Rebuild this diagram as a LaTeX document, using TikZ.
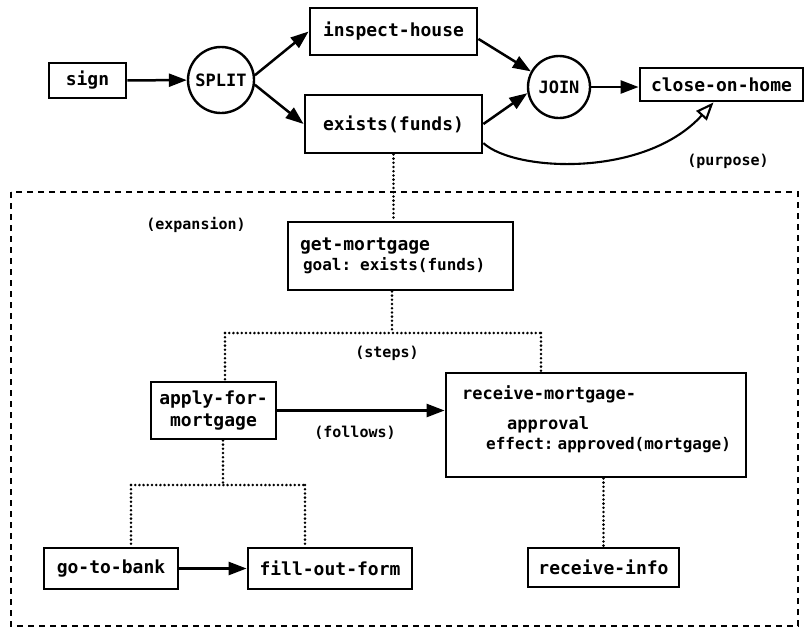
\documentclass[tikz,border=0pt]{standalone}
\usepackage{fontspec}
\newfontfamily\dmono{DejaVu Sans Mono}
\usetikzlibrary{arrows.meta}
\newcommand\diagmain{\dmono\bfseries\fontsize{18}{22}\selectfont}
\newcommand\diagrecv{\dmono\bfseries\fontsize{17}{22}\selectfont}
\newcommand\diagsub{\dmono\bfseries\fontsize{16}{20}\selectfont}
\newcommand\diagnote{\dmono\bfseries\fontsize{15}{17}\selectfont}
\begin{document}
\begin{tikzpicture}[x=1pt,y=-1pt,
  box/.style={draw, line width=2.8pt, inner sep=0pt, font=\diagmain},
  circ/.style={draw, circle, line width=2.4pt, inner sep=0pt, font=\dmono\bfseries\fontsize{17}{20}\selectfont},
  arr/.style={line width=2.5pt, -{Triangle[length=18pt,width=13pt]}},
  openarr/.style={line width=2.1pt, -{Triangle[open,length=18pt,width=14pt]}},
  dots/.style={line width=2.8pt, line cap=round, dash pattern=on 0pt off 4.2pt},
  dashbox/.style={line width=2.5pt, dash pattern=on 6pt off 5pt},
  note/.style={font=\diagnote, inner sep=0pt}]
\useasboundingbox (0,0) rectangle (806,630);
\fill[white] (0,0) rectangle (806,630);

% top row
\node[box, minimum width=77pt, minimum height=35pt] (sign) at (87.5,80.5) {sign};
\node[circ, minimum size=66pt] (split) at (221,80) {SPLIT};
\node[box, minimum width=167pt, minimum height=47pt] (inspect) at (393.5,31.5) {inspect-house};
\node[box, minimum width=177pt, minimum height=58pt] (exists) at (393.5,124) {exists(funds)};
\node[circ, minimum size=62pt] (join) at (559,87) {JOIN};
\node[box, minimum width=163pt, minimum height=33pt] (close) at (721.5,84.5) {close-on-home};

% expansion frame
\draw[dashbox] (11,192) rectangle (798,626);
\node[note] (expansion) at (196,225) {(expansion)};

\node[box, align=left, text width=201pt, inner xsep=12pt, minimum height=68pt] (getm) at (400.5,256)
  {get-mortgage\\[-2pt]{\diagsub\hspace{3pt}goal: exists(funds)}};

\node[box, minimum width=125pt, minimum height=57pt, align=center] (apply) at (213.5,410.5) {apply-for-\\mortgage};

\node[box, minimum width=300pt, minimum height=104pt] (receive) at (596,425) {};
\node[anchor=north west, align=left, inner sep=0pt, font=\diagrecv] (receivetxt) at (462,385)
  {receive-mortgage-\\[8pt]\hspace{45pt}approval\\[-2pt]{\diagsub\hspace{24pt}effect:\hspace{4pt}approved(mortgage)}};

\node[box, minimum width=134pt, minimum height=41pt] (gobank) at (111,568.5) {go-to-bank};
\node[box, minimum width=164pt, minimum height=41pt] (fill) at (330,568.5) {fill-out-form};
\node[box, minimum width=151pt, minimum height=39pt] (rinfo) at (603.5,567.5) {receive-info};

\node[note] (steps) at (387,353) {(steps)};
\node[note] (follows) at (355,433) {(follows)};
\node[note] (purpose) at (728,161) {(purpose)};

% junction points
\coordinate (stepsL) at (225,333);
\coordinate (stepsR) at (541,333);
\coordinate (stepsM) at (392,333);
\coordinate (subL) at (131,485);
\coordinate (subR) at (305,485);
\coordinate (subM) at (223,485);

% dotted links
\draw[dots] (exists.south) -- (exists.south |- getm.north);
\draw[dots] (getm.south -| stepsM) -- (stepsM);
\draw[dots] (stepsL) -- (stepsR);
\draw[dots] (stepsL) -- (stepsL |- apply.north);
\draw[dots] (stepsR) -- (stepsR |- receive.north);
\draw[dots] (apply.south -| subM) -- (subM);
\draw[dots] (subL) -- (subR);
\draw[dots] (subL) -- (subL |- gobank.north);
\draw[dots] (subR) -- (subR |- fill.north);
\draw[dots] (rinfo.north |- receive.south) -- (rinfo.north);

% arrows
\draw[arr] (sign) -- (split);
\draw[arr] (split.8) -- (inspect.west);
\draw[arr] (split.-8) -- (exists.west);
\draw[arr] (inspect.-5) -- (join.151);
\draw[arr] (exists.east) -- (join.191);
\draw[arr] (join.east) -- (join.east -| close.west);
\draw[arr] (apply.east) -- (apply.east -| receive.west);
\draw[arr] (gobank) -- (fill);
\draw[openarr] (exists.-12) .. controls (515,172) and (645,178) .. ([xshift=-8pt]close.south);
\end{tikzpicture}
\end{document}
